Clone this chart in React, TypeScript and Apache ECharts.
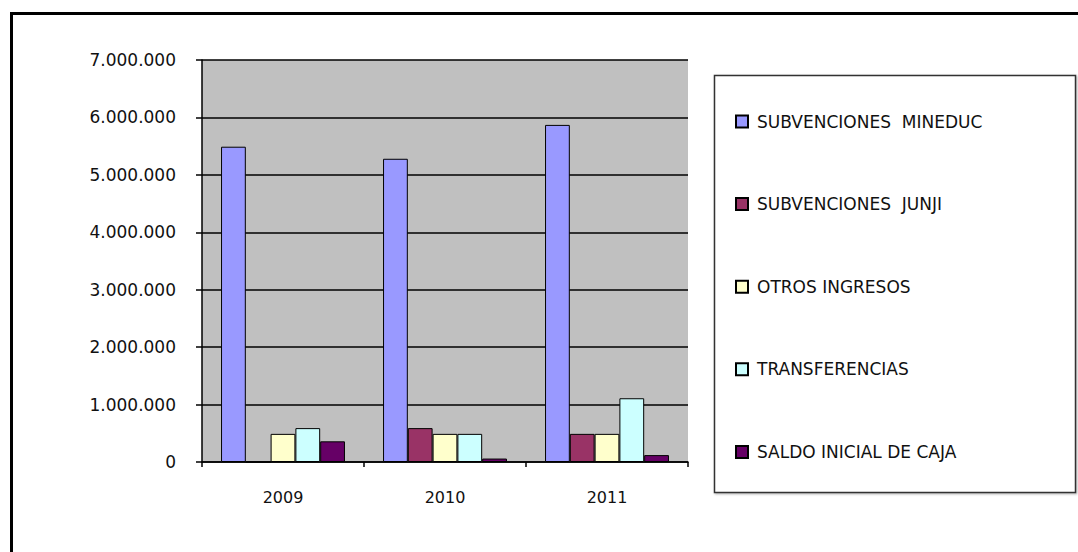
import React, { useEffect, useRef } from "react";
import * as echarts from "echarts";

const categories = ["2009", "2010", "2011"];
const seriesNames = [
  "SUBVENCIONES  MINEDUC",
  "SUBVENCIONES  JUNJI",
  "OTROS INGRESOS",
  "TRANSFERENCIAS",
  "SALDO INICIAL DE CAJA",
];
const mineduc = [5490000, 5280000, 5870000];
const junji = [0, 590000, 490000];
const otros = [490000, 490000, 490000];
const transferencias = [590000, 490000, 1110000];
const saldo = [360000, 60000, 120000];
const colors = ["#9999FF", "#993366", "#FFFFCC", "#CCFFFF", "#660066"];

const fmt = (v: number) => String(Math.round(v)).replace(/\B(?=(\d{3})+(?!\d))/g, ".");

export default function App() {
  const ref = useRef<HTMLDivElement>(null);
  useEffect(() => {
    if (!ref.current) return;
    const chart = echarts.init(ref.current, null, { renderer: "svg" });
    const data = [mineduc, junji, otros, transferencias, saldo];
    const font = "DejaVu Sans";
    chart.setOption({
      animation: false,
      backgroundColor: "#ffffff",
      graphic: [
        {
          type: "rect",
          shape: { x: 11.5, y: 13.5, width: 1100, height: 600 },
          style: { fill: "none", stroke: "#000", lineWidth: 3 },
          silent: true,
        },
        {
          type: "rect",
          shape: { x: 714.5, y: 75.5, width: 361, height: 417 },
          style: { fill: "#fff", stroke: "#333", lineWidth: 1.5, shadowBlur: 2, shadowColor: "rgba(0,0,0,0.3)", shadowOffsetX: 1, shadowOffsetY: 1 },
          silent: true,
          z: 0,
        },
      ],
      grid: {
        left: 202,
        right: 390,
        top: 60,
        bottom: 90,
        show: true,
        backgroundColor: "#C0C0C0",
        borderWidth: 0,
      },
      legend: {
        orient: "vertical",
        left: 730,
        top: 108,
        itemWidth: 12,
        itemHeight: 12,
        itemGap: 65.6,
        icon: "rect",
        z: 5,
        textStyle: { fontFamily: font, fontSize: 17, color: "#111", padding: [0, 0, 0, 4] },
        data: seriesNames,
      },
      xAxis: {
        type: "category",
        data: categories,
        axisLine: { lineStyle: { color: "#000", width: 1.5 } },
        axisTick: { show: true, length: 5, lineStyle: { color: "#000", width: 1.5 } },
        axisLabel: { fontFamily: font, fontSize: 16, color: "#111", margin: 27 },
      },
      yAxis: {
        type: "value",
        min: 0,
        max: 7000000,
        interval: 1000000,
        axisLine: { show: true, lineStyle: { color: "#000", width: 1.5 } },
        axisTick: { show: true, length: 6, lineStyle: { color: "#000", width: 1.5 } },
        splitLine: { lineStyle: { color: "#000", width: 1.5 } },
        axisLabel: { fontFamily: font, fontSize: 17, color: "#111", margin: 26, formatter: (v: number) => fmt(v) },
      },
      series: seriesNames.map((name, i) => ({
        name,
        type: "bar",
        data: data[i],
        barGap: "0%",
        barCategoryGap: "23.5%",
        itemStyle: { color: colors[i], borderColor: "#000", borderWidth: 1 },
      })),
    });
    return () => chart.dispose();
  }, []);
  return <div ref={ref} style={{ position: "fixed", left: 0, top: 0, width: 1078, height: 552 }} />;
}
